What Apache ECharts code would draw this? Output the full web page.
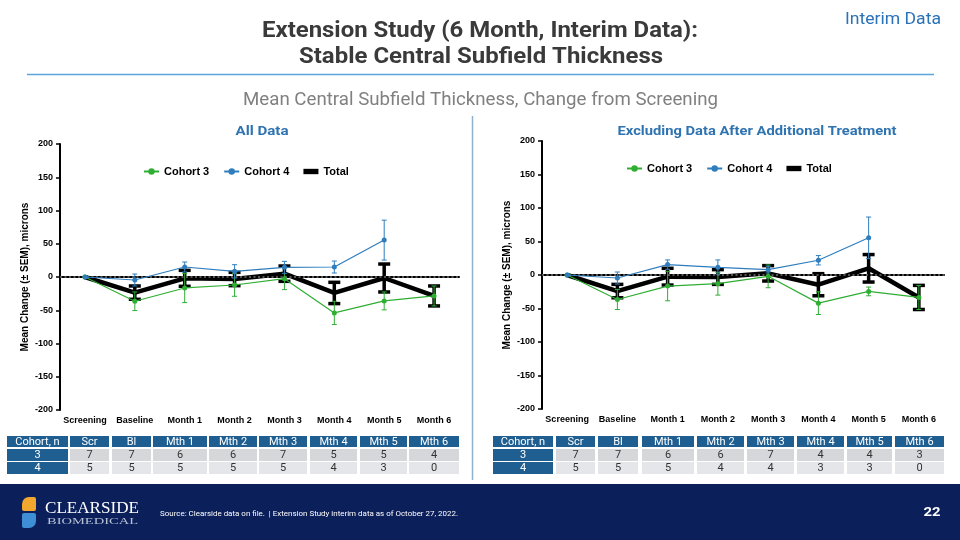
<!DOCTYPE html>
<html><head><meta charset="utf-8">
<script src="https://cdn.jsdelivr.net/npm/echarts@6/dist/echarts.min.js"></script>
<style>html,body{margin:0;padding:0;background:#fff}#c{width:960px;height:540px}</style>
</head><body><div id="c"></div>
<script>
// ---------- data ----------
const categories = ['Screening','Baseline','Month 1','Month 2','Month 3','Month 4','Month 5','Month 6'];
const seriesNames = ['Cohort 3','Cohort 4','Total'];

// All Data
const allCohort3 = [0, -36.5, -16.5, -12, -2.5, -54, -36, -28.5];
const allCohort3Sem = [0, 14, 22, 17, 16.5, 17.5, 13.5, 15];
const allCohort4 = [0, -4.5, 15, 8.5, 14.5, 15, 55.5, null];
const allCohort4Sem = [0, 9, 7.5, 10, 9, 9, 30, null];
const allTotal = [0, -23.5, -2, -3, 5, -24, -1.5, -28.5];
const allTotalSem = [0, 10, 12, 10, 11.5, 16, 21, 15];

// Excluding data after additional treatment
const exCohort3 = [0, -36.5, -16.5, -13, -2, -42, -24.5, -33.5];
const exCohort3Sem = [0, 15, 22, 17, 17, 17, 6.5, 18];
const exCohort4 = [0, -4.5, 15.5, 11.5, 8, 22, 55.5, null];
const exCohort4Sem = [0, 9, 7, 11, 5, 7, 31, null];
const exTotal = [0, -24, -2.5, -3, 2.5, -14.5, 10, -33.5];
const exTotalSem = [0, 10, 12.5, 11, 11.5, 16.5, 20.5, 18];

// n tables
const tableHeader = ['Cohort, n','Scr','Bl','Mth 1','Mth 2','Mth 3','Mth 4','Mth 5','Mth 6'];
const cohortLabels = ['3','4'];
const allN3 = [7,7,6,6,7,5,5,4];
const allN4 = [5,5,5,5,5,4,3,0];
const exN3 = [7,7,6,6,7,4,4,3];
const exN4 = [5,5,5,4,4,3,3,0];

const yMin = -200, yMax = 200, yStep = 50;

// ---------- styles ----------
const GREEN = '#2fae33', BLUE = '#2f7dbd', BLACK = '#000';
const CF = 'Liberation Sans';
const SF = 'Roboto';
const mctx = document.createElement('canvas').getContext('2d');
function fit(text, font, w){ mctx.font = font; return w / mctx.measureText(text).width; }
function txt(text, cx, cy, size, weight, color, width, align, family){
  const font = (weight||'normal') + ' ' + size + 'px ' + (family||SF);
  const s = width ? fit(text, font, width) : 1;
  return {type:'text', x:cx, y:cy, scaleX:s, silent:true, z:10,
    style:{text:text, x:0, y:0, fill:color, font:font, textAlign:align||'center', textVerticalAlign:'middle'}};
}

const chart = echarts.init(document.getElementById('c'), null, {renderer:'canvas'});

function errSeries(name, means, sems, color, lw, cap, idx, z){
  const data = [];
  means.forEach((m,i)=>{ if(m!=null && sems[i]) data.push([i, m - sems[i], m + sems[i]]); });
  return {
    type:'custom', name:name, xAxisIndex:idx, yAxisIndex:idx, z:z, silent:true,
    data:data,
    renderItem:function(params, api){
      const x = api.value(0);
      const lo = api.coord([x, api.value(1)]);
      const hi = api.coord([x, api.value(2)]);
      const st = {stroke:color, lineWidth:lw, lineCap:'butt'};
      return {type:'group', children:[
        {type:'line', shape:{x1:lo[0], y1:lo[1], x2:hi[0], y2:hi[1]}, style:st},
        {type:'line', shape:{x1:lo[0]-cap, y1:lo[1], x2:lo[0]+cap, y2:lo[1]}, style:st},
        {type:'line', shape:{x1:hi[0]-cap, y1:hi[1], x2:hi[0]+cap, y2:hi[1]}, style:st}
      ]};
    }
  };
}
function lineSeries(name, vals, color, lw, sym, idx, z){
  return {type:'line', name:name, data:vals, xAxisIndex:idx, yAxisIndex:idx, z:z,
    symbol: sym ? 'circle' : 'none', symbolSize: 5, showSymbol: !!sym,
    connectNulls:false,
    lineStyle:{color:color, width:lw}, itemStyle:{color:color},
    emphasis:{disabled:true}};
}
function zeroLine(idx){
  return {type:'line', name:'zero'+idx, data:[], xAxisIndex:idx, yAxisIndex:idx, z:1, silent:true,
    markLine:{silent:true, symbol:'none', label:{show:false}, animation:false,
      lineStyle:{type:[2,2.5], color:'#707070', width:1.5}, data:[{yAxis:0}]}};
}
function xAx(idx){
  return {type:'category', gridIndex:idx, data:categories, boundaryGap:true,
    axisLine:{lineStyle:{color:'#000', width:2}}, axisTick:{show:false},
    axisLabel:{color:'#000', fontFamily:CF, fontWeight:'bold', fontSize:9, margin:6, interval:0}};
}
function yAx(idx){
  return {type:'value', gridIndex:idx, min:yMin, max:yMax, interval:yStep,
    name:'Mean Change (± SEM), microns', nameLocation:'middle', nameGap:30,
    nameTextStyle:{color:'#000', fontFamily:CF, fontWeight:'bold', fontSize:10},
    axisLine:{show:true, lineStyle:{color:'#000', width:2}},
    axisTick:{show:true, length:4, lineStyle:{color:'#000', width:1.5}},
    splitLine:{show:false},
    axisLabel:{color:'#000', fontFamily:CF, fontWeight:'bold', fontSize:9, margin:7}};
}

// ---------- tables ----------
const leftCols = [[7,68],[70,109],[112,151],[153,207],[209,257],[259,307],[310,357],[360,407],[409,459]];
const rightCols = [[493,553],[556,595],[598,638],[642,694],[697,744],[747,794],[797,844],[847,892],[895,944]];
const rowsY = [[436,447],[449,461],[462,474]];
const HDR = '#1f5e90';
function buildTable(cols, n3, n4){
  const els = [];
  const body = [n3, n4];
  for (let r=0; r<3; r++){
    for (let c=0; c<cols.length; c++){
      const [x0,x1] = cols[c], [y0,y1] = rowsY[r];
      let fill, tcol, text;
      if (r===0){ fill = HDR; tcol = '#fff'; text = tableHeader[c]; }
      else if (c===0){ fill = HDR; tcol = '#fff'; text = cohortLabels[r-1]; }
      else { fill = r===1 ? '#d5d7db' : '#e5e6e9'; tcol = '#333'; text = String(body[r-1][c-1]); }
      els.push({type:'rect', shape:{x:x0, y:y0, width:x1-x0, height:y1-y0}, style:{fill:fill}, silent:true, z:5});
      els.push({type:'text', x:(x0+x1)/2, y:(y0+y1)/2+0.5, silent:true, z:6,
        style:{text:text, fill:tcol, font:'normal 11px '+SF, textAlign:'center', textVerticalAlign:'middle'}});
    }
  }
  return els;
}

const graphics = [
  txt('Extension Study (6 Month, Interim Data):', 480, 31, 22, 'bold', '#3a3a3a', 436),
  txt('Stable Central Subfield Thickness', 481, 57, 22, 'bold', '#3a3a3a', 364),
  txt('Interim Data', 893, 20, 16, 'normal', '#2a72b5', 96),
  {type:'line', shape:{x1:27, y1:74.5, x2:934, y2:74.5}, style:{stroke:'#5aa5dc', lineWidth:1.5}, silent:true},
  txt('Mean Central Subfield Thickness, Change from Screening', 480.5, 100, 18, 'normal', '#808080', 475),
  {type:'line', shape:{x1:472.5, y1:116, x2:472.5, y2:480}, style:{stroke:'#8fb0cf', lineWidth:1.5}, silent:true},
  txt('All Data', 262, 132, 13, 'bold', '#2f73b0', 53),
  txt('Excluding Data After Additional Treatment', 757, 132, 13, 'bold', '#2f73b0', 279),
  // footer
  {type:'rect', shape:{x:0, y:484, width:960, height:56}, style:{fill:'#0b1f5b'}, silent:true, z:1},
  {type:'rect', shape:{x:22, y:497, width:14, height:14, r:[7,2,2,2]}, style:{fill:'#f2a72e'}, silent:true, z:2},
  {type:'rect', shape:{x:22, y:513, width:14, height:15, r:[2,2,7,2]}, style:{fill:'#3f8fd6'}, silent:true, z:2},
  txt('CLEARSIDE', 45, 509, 16, 'normal', '#ffffff', 94, 'left', 'Liberation Serif'),
  txt('BIOMEDICAL', 47, 522, 8, 'normal', '#b9c3d6', 91, 'left', 'Liberation Serif'),
  txt('Source: Clearside data on file.  | Extension Study interim data as of October 27, 2022.', 160, 513.5, 8, 'normal', '#ffffff', 298, 'left'),
  txt('22', 932, 513, 13, 'bold', '#ffffff', 17)
].concat(buildTable(leftCols, allN3, allN4), buildTable(rightCols, exN3, exN4));

const legendData = [
  {name:'Cohort 3'},
  {name:'Cohort 4'},
  {name:'Total', icon:'path://M0,0H14V5H0Z'}
];
const legendBase = {
  data: legendData, itemWidth:15, itemHeight:8, itemGap:14, orient:'horizontal',
  textStyle:{color:'#000', fontFamily:CF, fontWeight:'bold', fontSize:11},
  selectedMode:false
};

const option = {
  animation:false,
  backgroundColor:'#ffffff',
  grid:[
    {left:60, top:144, width:399, height:266},
    {left:542, top:141, width:402, height:268}
  ],
  xAxis:[xAx(0), xAx(1)],
  yAxis:[yAx(0), yAx(1)],
  legend:[
    Object.assign({}, legendBase, {left:138, top:161}),
    Object.assign({}, legendBase, {left:621, top:158})
  ],
  series:[
    zeroLine(0),
    errSeries('Total SEM A', allTotal, allTotalSem, BLACK, 3.5, 6, 0, 2),
    lineSeries('Total', allTotal, BLACK, 4.5, false, 0, 3),
    errSeries('Cohort 3 SEM A', allCohort3, allCohort3Sem, GREEN, 1, 2.5, 0, 4),
    errSeries('Cohort 4 SEM A', allCohort4, allCohort4Sem, BLUE, 1, 2.5, 0, 4),
    lineSeries('Cohort 3', allCohort3, GREEN, 1.2, true, 0, 5),
    lineSeries('Cohort 4', allCohort4, BLUE, 1.2, true, 0, 5),

    zeroLine(1),
    errSeries('Total SEM B', exTotal, exTotalSem, BLACK, 3.5, 6, 1, 2),
    lineSeries('Total', exTotal, BLACK, 4.5, false, 1, 3),
    errSeries('Cohort 3 SEM B', exCohort3, exCohort3Sem, GREEN, 1, 2.5, 1, 4),
    errSeries('Cohort 4 SEM B', exCohort4, exCohort4Sem, BLUE, 1, 2.5, 1, 4),
    lineSeries('Cohort 3', exCohort3, GREEN, 1.2, true, 1, 5),
    lineSeries('Cohort 4', exCohort4, BLUE, 1.2, true, 1, 5)
  ],
  graphic: graphics
};
chart.setOption(option);
</script></body></html>
